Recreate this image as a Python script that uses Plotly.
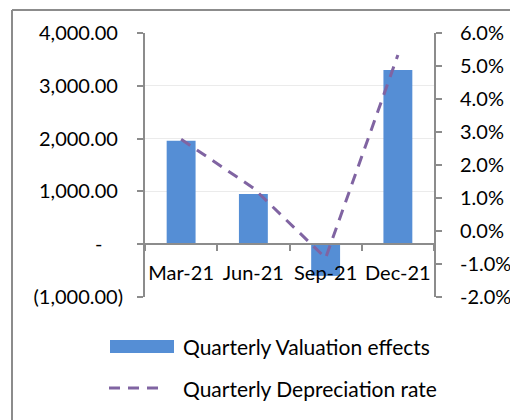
import plotly.graph_objects as go

# Data
quarters = ['Mar-21', 'Jun-21', 'Sep-21', 'Dec-21']
valuation_effects = [1960, 950, -600, 3300]
depreciation_rate = [0.0278, 0.013, -0.0082, 0.0533]

left_ticks = [-1000, 0, 1000, 2000, 3000, 4000]
left_labels = ['(1,000.00)', '-\u00a0\u00a0\u00a0\u00a0', '1,000.00\u00a0', '2,000.00\u00a0',
               '3,000.00\u00a0', '4,000.00\u00a0']
right_ticks = [-0.02, -0.01, 0.0, 0.01, 0.02, 0.03, 0.04, 0.05, 0.06]
right_labels = ['-2.0%', '-1.0%', '0.0%', '1.0%', '2.0%', '3.0%', '4.0%', '5.0%', '6.0%']

bar_color = '#558ED5'
line_color = '#8064A2'
axis_color = '#8C8C8C'
font_family = 'Lato'

# figure geometry (pixels); the page body adds an 8px offset
OFF = 8
W, H = 518 - OFF, 420 - OFF
ml, mr, mt, mb = 145 - OFF, 84, 33 - OFF, 123
pw, ph = W - ml - mr, H - mt - mb


def px(x):
    # page pixel -> paper x
    return (x - OFF - ml) / pw


def py(y):
    # page pixel -> paper y
    return (H - mb - (y - OFF)) / ph


y_range = [left_ticks[0], left_ticks[-1]]
y2_range = [right_ticks[0], right_ticks[-1]]

fig = go.Figure()

fig.add_trace(go.Bar(
    x=quarters,
    y=valuation_effects,
    name='Quarterly Valuation effects',
    marker=dict(color=bar_color, line=dict(width=0)),
    yaxis='y',
))

fig.add_trace(go.Scatter(
    x=quarters,
    y=depreciation_rate,
    name='Quarterly Depreciation rate',
    mode='lines',
    line=dict(color=line_color, width=3, dash='11px,8px'),
    yaxis='y2',
))

# x axis sits at the zero of the left axis
zero_pos = (0 - y_range[0]) / (y_range[1] - y_range[0])

fig.update_layout(
    width=W, height=H,
    margin=dict(l=ml, r=mr, t=mt, b=mb, autoexpand=False),
    paper_bgcolor='white',
    plot_bgcolor='white',
    showlegend=False,
    bargap=0.6,
    font=dict(family=font_family, size=20, color='#000000'),
    xaxis=dict(
        type='category',
        range=[-0.5, 3.5],
        anchor='free',
        position=zero_pos,
        showline=True, linecolor=axis_color, linewidth=2,
        ticks='outside', tickson='boundaries', ticklen=6, tickcolor=axis_color, tickwidth=2,
        showgrid=False,
        tickangle=0,
        automargin=False,
        ticklabelstandoff=11,
    ),
    yaxis=dict(
        range=y_range,
        tickvals=left_ticks, ticktext=left_labels,
        showline=True, linecolor=axis_color, linewidth=2,
        ticks='outside', ticklen=6, tickcolor=axis_color, tickwidth=2,
        showgrid=True, gridcolor='#EBEBEB', gridwidth=1,
        zeroline=False,
        automargin=False,
        ticklabelstandoff=10,
    ),
    yaxis2=dict(
        range=y2_range,
        overlaying='y', side='right',
        tickvals=right_ticks, ticktext=right_labels,
        showline=True, linecolor=axis_color, linewidth=2,
        ticks='outside', ticklen=6, tickcolor=axis_color, tickwidth=2,
        showgrid=False, zeroline=False,
        automargin=False,
        ticklabelstandoff=14,
    ),
)

# outer chart frame (left and top edges; the rest runs off the page)
frame = dict(type='line', xref='paper', yref='paper', layer='above',
             line=dict(color='#8C8C8C', width=2))
fig.add_shape(x0=px(12), x1=px(12), y0=py(OFF + 2), y1=py(430), **frame)
fig.add_shape(x0=px(12), x1=px(530), y0=py(OFF + 2), y1=py(OFF + 2), **frame)

# legend
fig.add_shape(type='rect', xref='paper', yref='paper',
              x0=px(110), x1=px(174), y0=py(353), y1=py(340),
              line=dict(width=0), fillcolor=bar_color)
fig.add_shape(type='line', xref='paper', yref='paper',
              x0=px(109), x1=px(166), y0=py(388), y1=py(388),
              line=dict(color=line_color, width=3, dash='11px,8px'))
fig.add_annotation(xref='paper', yref='paper', x=px(181), y=py(346),
                   xanchor='left', yanchor='middle', showarrow=False,
                   text='Quarterly Valuation effects', font=dict(size=21))
fig.add_annotation(xref='paper', yref='paper', x=px(181), y=py(388),
                   xanchor='left', yanchor='middle', showarrow=False,
                   text='Quarterly Depreciation rate', font=dict(size=21))

fig.write_html('out.html')
